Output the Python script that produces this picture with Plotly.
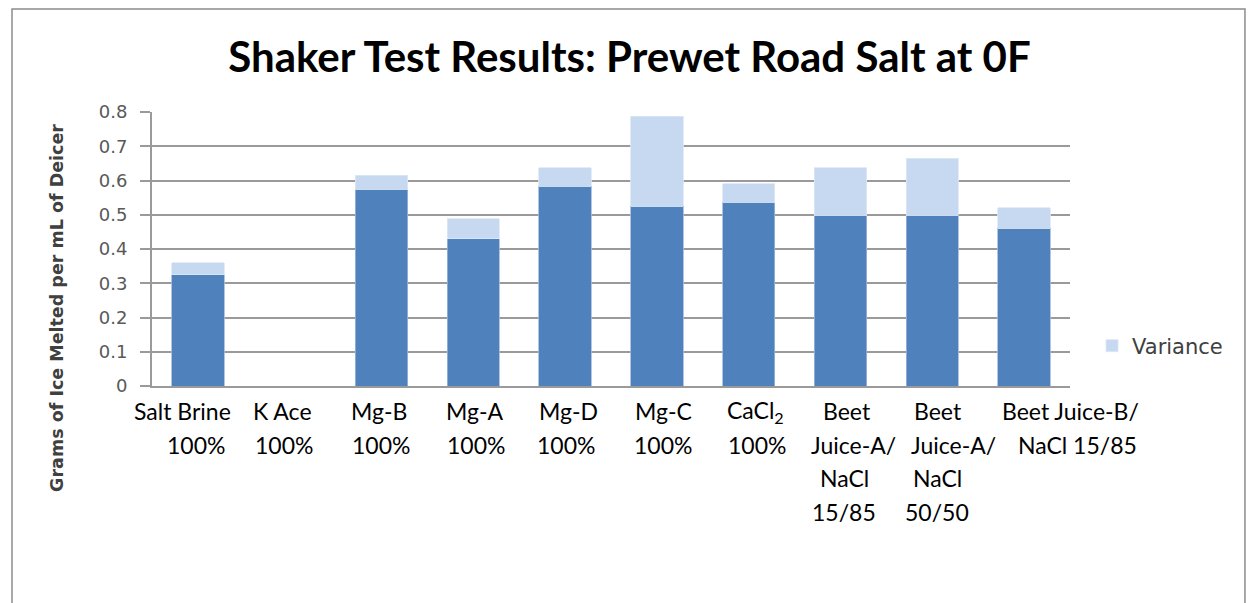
import plotly.graph_objects as go

# Deicer products (category keys) and their wrapped axis label lines
categories = ["Salt Brine 100%", "K Ace 100%", "Mg-B 100%", "Mg-A 100%", "Mg-D 100%",
              "Mg-C 100%", "CaCl2 100%", "Beet Juice-A/NaCl 15/85",
              "Beet Juice-A/NaCl 50/50", "Beet Juice-B/NaCl 15/85"]
label_lines = [["Salt Brine", "100%"], ["K Ace", "100%"], ["Mg-B", "100%"],
               ["Mg-A", "100%"], ["Mg-D", "100%"], ["Mg-C", "100%"],
               ["CaCl<sub>2</sub>", "100%"], ["Beet", "Juice-A/", "NaCl", "15/85"],
               ["Beet", "Juice-A/", "NaCl", "50/50"], ["Beet Juice-B/", "NaCl 15/85"]]

# Grams of ice melted per mL of deicer: mean result and variance stacked on top
melted = [0.325, 0.0, 0.575, 0.430, 0.583, 0.525, 0.536, 0.498, 0.498, 0.461]
variance = [0.035, 0.0, 0.041, 0.058, 0.054, 0.262, 0.054, 0.139, 0.167, 0.059]

y_ticks = [0, 0.1, 0.2, 0.3, 0.4, 0.5, 0.6, 0.7, 0.8]

# horizontal nudges (px) for each label line, mimicking the spreadsheet layout
label_shift = [[-15, -2], [-7, -6], [-3, -1], [1, 3], [3, 1], [7, 6], [7, 8],
               [6, 13, 4, 3], [6, 21, 5, 5], [46, 53]]
line_yshift = [-25, -58.5, -92, -125.5]

fig = go.Figure()
fig.add_trace(go.Bar(x=categories, y=melted, name="Melted", showlegend=False,
                     marker=dict(color="#4F81BD", line=dict(color="#9DB8DC", width=0.8))))
fig.add_trace(go.Bar(x=categories, y=variance, name="Variance",
                     marker=dict(color="#C6D9F0", line=dict(color="#DCE7F5", width=0.8))))

label_font = dict(family="Lato, Liberation Sans", size=23, color="#000000")
annotations = []
for cat, lines, shifts in zip(categories, label_lines, label_shift):
    for i, (txt, dx) in enumerate(zip(lines, shifts)):
        annotations.append(dict(x=cat, xref="x", y=0, yref="paper", text=txt,
                                showarrow=False, xanchor="center", yanchor="middle",
                                xshift=dx, yshift=line_yshift[i], font=label_font))

# rotated value-axis title, sitting lower than the plot centre
annotations.append(dict(text="Grams of Ice Melted per mL of Deicer", textangle=-90,
                        x=-0.1035, xref="paper", y=0.285, yref="paper",
                        xanchor="center", yanchor="middle", showarrow=False,
                        font=dict(family="DejaVu Sans", size=17.5, color="#404040",
                                  weight="bold")))

fig.update_layout(
    barmode="stack",
    bargap=0.43,
    width=1257, height=603,
    margin=dict(l=152, r=187, t=112, b=217),
    paper_bgcolor="white", plot_bgcolor="white",
    title=dict(text="Shaker Test Results: Prewet Road Salt at 0F",
               x=629.5 / 1257, xanchor="center", y=1 - 57 / 603, yanchor="middle",
               font=dict(family="Lato, Liberation Sans", size=42, color="#000000",
                         weight="bold")),
    legend=dict(x=1.024, y=0.146, xanchor="left", yanchor="middle",
                font=dict(family="DejaVu Sans", size=21, color="#404040"),
                bgcolor="rgba(0,0,0,0)"),
    annotations=annotations,
    showlegend=True,
    shapes=[dict(type="rect", xref="paper", yref="paper",
                 x0=-0.1525, x1=1.1906, y0=-0.82, y1=1.376,
                 line=dict(color="#8c8c8c", width=1.5), layer="below")],
)

fig.update_xaxes(range=[-0.5, 9.5], autorange=False, showticklabels=False, showgrid=False,
                 showline=True, linecolor="#9a9a9a", linewidth=2, ticks="")
fig.update_yaxes(range=[0, 0.8], autorange=False, tickvals=y_ticks, showgrid=True,
                 gridcolor="#9a9a9a", gridwidth=1.5, showline=True, linecolor="#9a9a9a",
                 linewidth=2, ticks="outside", ticklen=10, tickcolor="#9a9a9a", tickwidth=1.5,
                 ticklabelstandoff=9,
                 tickfont=dict(family="DejaVu Sans", size=18, color="#595959"),
                 zeroline=False)

fig.write_html("out.html")
